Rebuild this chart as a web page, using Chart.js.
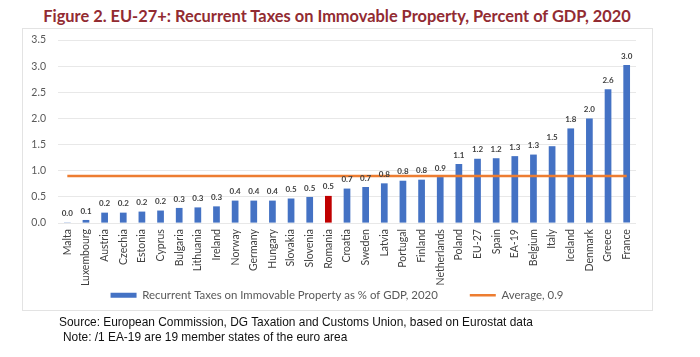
<!DOCTYPE html>
<html>
<head>
<meta charset="utf-8">
<script src="https://cdn.jsdelivr.net/npm/chart.js@4.4.1/dist/chart.umd.min.js"></script>
<style>
  html, body { margin: 0; padding: 0; background: #ffffff; }
  #wrap { position: relative; width: 700px; height: 357px; overflow: hidden; }
  #title { position: absolute; left: 0; width: 674px; top: 6px; text-align: center;
           font-family: Lato, "Open Sans", sans-serif; font-weight: bold; font-size: 16.4px;
           color: #922B32; white-space: nowrap; }
  #frame { position: absolute; left: 22px; top: 28px; width: 629px; height: 281px;
           border: 1px solid #E3E3E3; }
  #chart { position: absolute; left: 0; top: 0; }
  .note { position: absolute; font-family: "Liberation Sans", Arial, sans-serif;
          font-size: 13px; color: #111; white-space: nowrap;
          transform: scaleX(0.915); transform-origin: 0 0; }
</style>
</head>
<body>
<div id="wrap">
  <div id="frame"></div>
  <div id="title">Figure 2. EU-27+: Recurrent Taxes on Immovable Property, Percent of GDP, 2020</div>
  <canvas id="chart" width="700" height="357"></canvas>
  <div class="note" style="left:59px; top:314px;">Source: European Commission, DG Taxation and Customs Union, based on Eurostat data</div>
  <div class="note" style="left:63px; top:329px;">Note: /1 EA-19 are 19 member states of the euro area</div>
</div>
<script>
const countries = ["Malta","Luxembourg","Austria","Czechia","Estonia","Cyprus","Bulgaria","Lithuania","Ireland","Norway","Germany","Hungary","Slovakia","Slovenia","Romania","Croatia","Sweden","Latvia","Portugal","Finland","Netherlands","Poland","EU-27","Spain","EA-19","Belgium","Italy","Iceland","Denmark","Greece","France"];
const taxValues = [0.005,0.06,0.20,0.20,0.22,0.24,0.29,0.30,0.32,0.43,0.43,0.43,0.47,0.50,0.52,0.66,0.69,0.76,0.81,0.83,0.88,1.13,1.23,1.24,1.28,1.31,1.47,1.81,2.00,2.56,3.02];
const averageValues = [0.9,0.9,0.9,0.9,0.9,0.9,0.9,0.9,0.9,0.9,0.9,0.9,0.9,0.9,0.9,0.9,0.9,0.9,0.9,0.9,0.9,0.9,0.9,0.9,0.9,0.9,0.9,0.9,0.9,0.9,0.9];
const barLabel = "Recurrent Taxes on Immovable Property as % of GDP, 2020";
const lineLabel = "Average, 0.9";
const highlighted = "Romania";

const BLUE = "#4472C4";
const RED = "#C00000";
const ORANGE = "#ED7D31";

const valueLabels = {
  id: "valueLabels",
  afterDatasetsDraw(chart) {
    const meta = chart.getDatasetMeta(0);
    const ctx = chart.ctx;
    ctx.save();
    ctx.font = "bold 8px Lato, 'Open Sans', sans-serif";
    ctx.fillStyle = "#404040";
    ctx.textAlign = "center";
    ctx.textBaseline = "middle";
    meta.data.forEach((el, i) => {
      ctx.fillText(taxValues[i].toFixed(1), el.x, el.y - 9);
    });
    ctx.restore();
  }
};

new Chart(document.getElementById("chart"), {
  type: "bar",
  data: {
    labels: countries,
    datasets: [
      {
        label: barLabel,
        data: taxValues,
        backgroundColor: c => countries[c.dataIndex] === highlighted ? RED : BLUE,
        borderWidth: 0,
        barPercentage: 0.36,
        categoryPercentage: 1.0,
        pointStyle: "rect",
        order: 1
      },
      {
        type: "line",
        label: lineLabel,
        data: averageValues,
        borderColor: ORANGE,
        backgroundColor: ORANGE,
        borderWidth: 2.5,
        pointRadius: 0,
        pointStyle: "line",
        order: 0
      }
    ]
  },
  options: {
    responsive: false,
    animation: false,
    devicePixelRatio: 1,
    layout: { padding: { left: 22, right: 48, top: 40, bottom: 46 } },
    plugins: {
      title: { display: false },
      tooltip: { enabled: false },
      legend: {
        position: "bottom",
        labels: {
          usePointStyle: true,
          pointStyleWidth: 26,
          boxHeight: 5,
          padding: 32,
          color: "#595959",
          font: { family: "Lato, 'Open Sans', sans-serif", size: 11.4 },
          sort: (a, b) => a.datasetIndex - b.datasetIndex
        }
      }
    },
    scales: {
      x: {
        grid: { display: false, drawTicks: false },
        border: { display: false },
        ticks: {
          maxRotation: 90, minRotation: 90, autoSkip: false, padding: 6,
          color: "#404040",
          font: { family: "Lato, 'Open Sans', sans-serif", size: 10.5 }
        },
        afterFit: s => { s.height = 34.5; s._computeLabelArea = () => undefined; }
      },
      y: {
        min: 0, max: 3.5,
        grid: { color: "#E8E8E8", drawTicks: false },
        border: { display: false },
        ticks: {
          stepSize: 0.5, padding: 12,
          color: "#595959",
          font: { family: "Lato, 'Open Sans', sans-serif", size: 10.5 },
          callback: v => Number(v).toFixed(1)
        },
        afterFit: s => { s.width = 36; }
      },
      yRight: {
        position: "right",
        display: true,
        grid: { display: false, drawTicks: false },
        border: { display: false },
        ticks: { display: false },
        afterFit: s => { s.width = 16; }
      }
    }
  },
  plugins: [valueLabels]
});
</script>
</body>
</html>
